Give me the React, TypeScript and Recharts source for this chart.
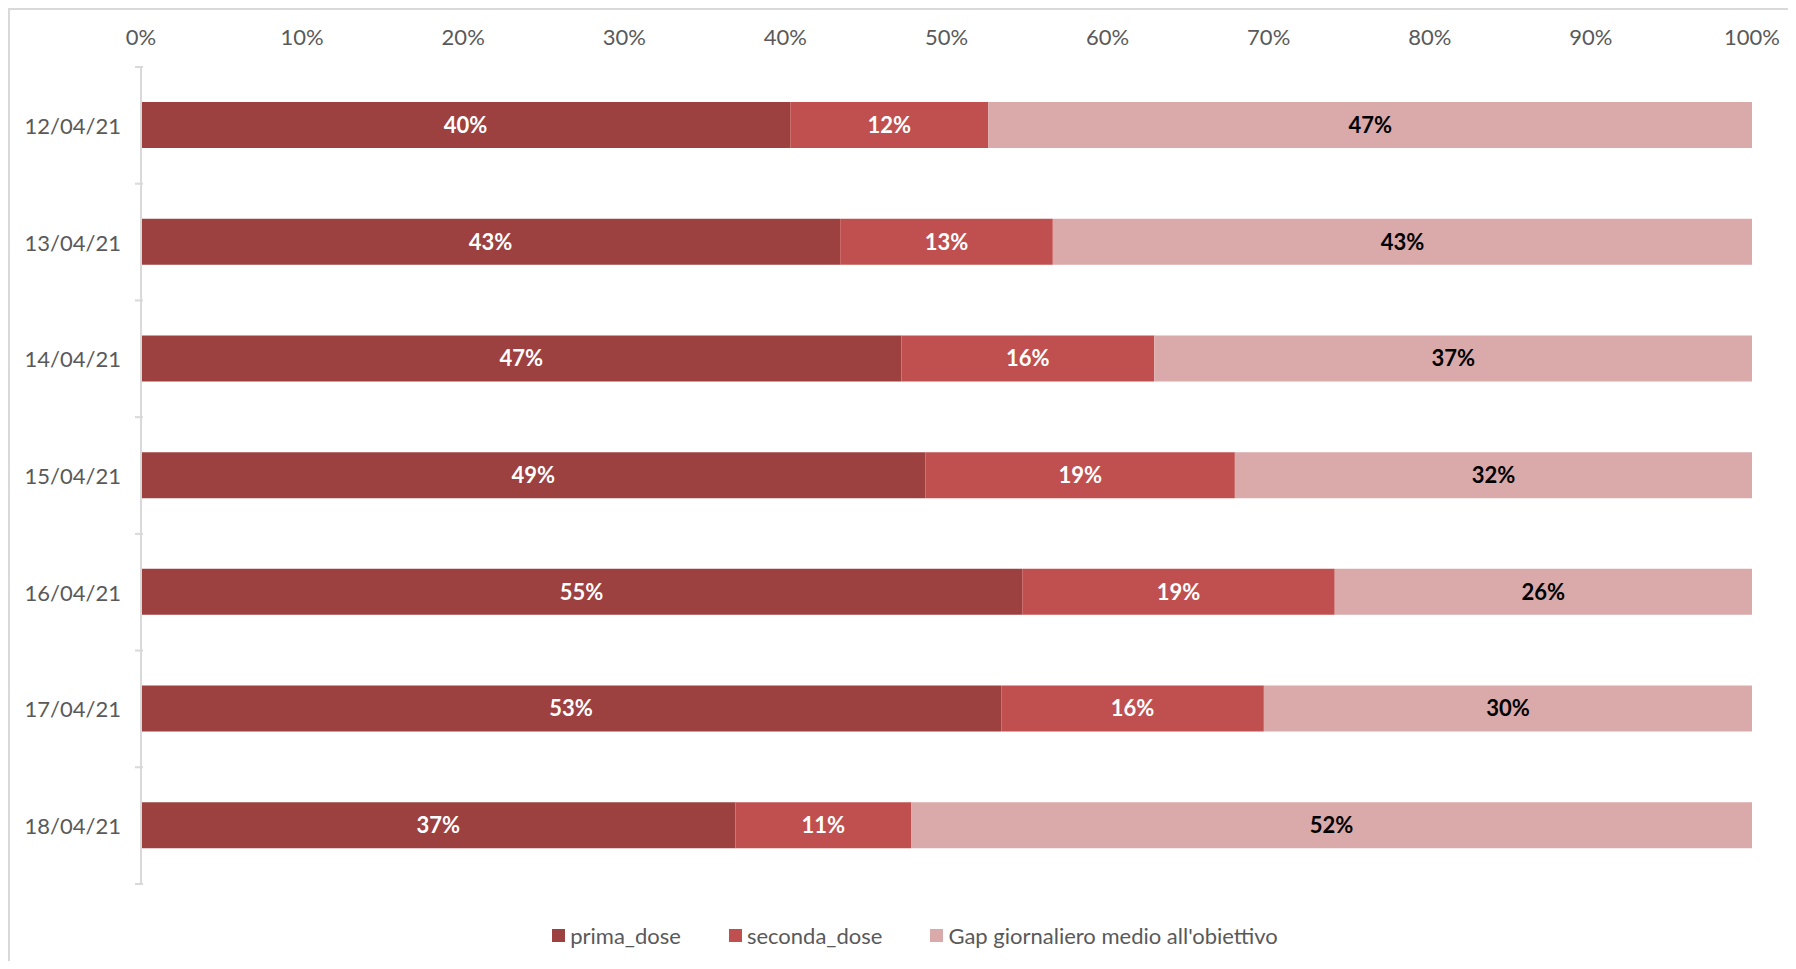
import React from 'react';
import { BarChart, Bar, XAxis, YAxis, LabelList } from 'recharts';

const dates = ['12/04/21', '13/04/21', '14/04/21', '15/04/21', '16/04/21', '17/04/21', '18/04/21'];
const primaDose = [40.3, 43.4, 47.2, 48.7, 54.7, 53.4, 36.9];
const secondaDose = [12.3, 13.2, 15.7, 19.2, 19.4, 16.3, 10.9];
const gapObiettivo = [47.4, 43.4, 37.1, 32.1, 25.9, 30.3, 52.2];
const xTicks = [0, 10, 20, 30, 40, 50, 60, 70, 80, 90, 100];

const series = [
  { key: 'prima', name: 'prima_dose', color: '#9C4040', label: '#FFFFFF' },
  { key: 'seconda', name: 'seconda_dose', color: '#C0504F', label: '#FFFFFF' },
  { key: 'gap', name: "Gap giornaliero medio all'obiettivo", color: '#DAA9A9', label: '#000000' },
];

const data = dates.map((d, i) => ({
  date: d,
  prima: primaDose[i],
  seconda: secondaDose[i],
  gap: gapObiettivo[i],
}));

const W = 1788;
const H = 953;
const margin = { top: 20, right: 44, left: 0, bottom: 77 };
const xAxisH = 39;
const yAxisW = 133;
const FONT = 'Lato, "Open Sans", sans-serif';
const plotH = H - margin.top - xAxisH - margin.bottom;
const band = plotH / dates.length;

const CategoryTick = ({ x, y, payload, index }: any) => {
  const axisX = x + 10;
  return (
    <g>
      <line x1={axisX - 8} x2={axisX} y1={y - band / 2} y2={y - band / 2} stroke="#D9D9D9" strokeWidth={2} />
      {index === dates.length - 1 && (
        <line x1={axisX - 8} x2={axisX} y1={y + band / 2} y2={y + band / 2} stroke="#D9D9D9" strokeWidth={2} />
      )}
      <text x={x - 12} y={y} textAnchor="end" dominantBaseline="central" fill="#595959" fontSize={22} fontFamily={FONT}>
        {payload.value}
      </text>
    </g>
  );
};

export default function App() {
  return (
    <div style={{ position: 'relative', width: W, height: H, background: '#fff' }}>
      <div
        style={{
          position: 'absolute', left: 0, top: 0, width: W, height: H,
          borderLeft: '2px solid #D9D9D9', borderTop: '2px solid #D9D9D9',
          boxSizing: 'border-box', pointerEvents: 'none',
        }}
      />
      <BarChart width={W} height={H} data={data} layout="vertical" margin={margin} barSize={46}>
        <XAxis
          type="number"
          orientation="top"
          domain={[0, 100]}
          ticks={xTicks}
          height={xAxisH}
          axisLine={false}
          tickLine={false}
          interval={0}
          tickFormatter={(v) => `${v}%`}
          tick={{ fill: '#595959', fontSize: 22, fontFamily: FONT, dy: -14 }}
        />
        <YAxis
          type="category"
          dataKey="date"
          width={yAxisW}
          axisLine={{ stroke: '#D9D9D9', strokeWidth: 2 }}
          tickLine={false}
          interval={0}
          tick={<CategoryTick />}
        />
        {series.map((s) => (
          <Bar key={s.key} dataKey={s.key} name={s.name} stackId="a" fill={s.color} isAnimationActive={false}>
            <LabelList
              dataKey={s.key}
              position="center"
              formatter={(v: any) => `${Math.round(v)}%`}
              fill={s.label}
              fontSize={22}
              fontWeight={700}
              fontFamily={FONT}
            />
          </Bar>
        ))}
      </BarChart>
      <div
        style={{
          position: 'absolute', left: 0, top: 914, width: W, display: 'flex',
          justifyContent: 'center', gap: 48, fontFamily: FONT, fontSize: 22, color: '#595959',
          paddingLeft: 26, boxSizing: 'border-box',
        }}
      >
        {series.map((s) => (
          <div key={s.key} style={{ display: 'flex', alignItems: 'center' }}>
            <span style={{ width: 13, height: 13, background: s.color, marginRight: 5, display: 'inline-block' }} />
            <span>{s.name}</span>
          </div>
        ))}
      </div>
    </div>
  );
}
